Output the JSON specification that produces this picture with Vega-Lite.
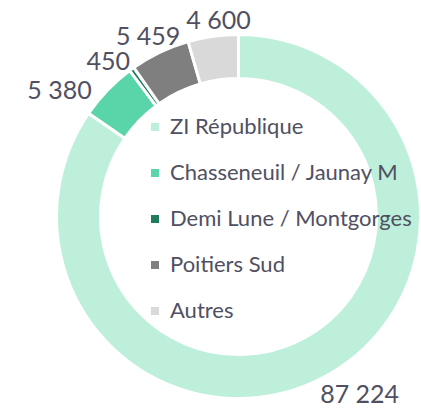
{
  "$schema": "https://vega.github.io/schema/vega-lite/v6.json",
  "width": 365,
  "height": 365,
  "autosize": {"type": "none"},
  "padding": {"left": 56, "top": 34, "right": 0, "bottom": 9},
  "background": "white",
  "config": {
    "view": {"stroke": null},
    "locale": {"number": {"decimal": ",", "thousands": " ", "grouping": [3], "currency": ["", " €"]}}
  },
  "data": {
    "values": [
      {"zone": "ZI République", "value": 87224, "rang": 1},
      {"zone": "Chasseneuil / Jaunay M", "value": 5380, "rang": 2},
      {"zone": "Demi Lune / Montgorges", "value": 450, "rang": 3},
      {"zone": "Poitiers Sud", "value": 5459, "rang": 4},
      {"zone": "Autres", "value": 4600, "rang": 5}
    ]
  },
  "encoding": {
    "theta": {"field": "value", "type": "quantitative", "stack": true},
    "order": {"field": "rang", "type": "quantitative"}
  },
  "layer": [
    {
      "mark": {"type": "arc", "outerRadius": 182, "innerRadius": 138, "stroke": "white", "strokeWidth": 3},
      "encoding": {
        "color": {
          "field": "zone",
          "type": "nominal",
          "sort": null,
          "scale": {
            "domain": ["ZI République", "Chasseneuil / Jaunay M", "Demi Lune / Montgorges", "Poitiers Sud", "Autres"],
            "range": ["#BDEFDB", "#5AD5A9", "#1E7B5B", "#7F7F7F", "#D9D9D9"]
          },
          "legend": {
            "orient": "none",
            "legendX": 88,
            "legendY": 82,
            "title": null,
            "symbolType": "square",
            "symbolSize": 64,
            "symbolStrokeWidth": 0,
            "symbolOpacity": 1,
            "labelFont": "Lato",
            "labelFontSize": 22,
            "labelColor": "#505062",
            "labelOffset": 4,
            "rowPadding": 24,
            "padding": 0,
            "labelLimit": 400
          }
        }
      }
    },
    {
      "mark": {"type": "text", "radius": 200, "dx": 28, "dy": 1, "font": "Lato", "fontSize": 25, "fill": "#505062", "align": "center", "baseline": "middle"},
      "encoding": {
        "detail": {"field": "zone", "type": "nominal"},
        "text": {"field": "value", "type": "quantitative", "format": ",d"},
        "opacity": {"condition": {"test": "datum.rang == 1", "value": 1}, "value": 0}
      }
    },
    {
      "mark": {"type": "text", "radius": 200, "dx": -35, "dy": 13, "font": "Lato", "fontSize": 25, "fill": "#505062", "align": "center", "baseline": "middle"},
      "encoding": {
        "detail": {"field": "zone", "type": "nominal"},
        "text": {"field": "value", "type": "quantitative", "format": ",d"},
        "opacity": {"condition": {"test": "datum.rang == 2", "value": 1}, "value": 0}
      }
    },
    {
      "mark": {"type": "text", "radius": 200, "dx": -13, "dy": 7, "font": "Lato", "fontSize": 25, "fill": "#505062", "align": "center", "baseline": "middle"},
      "encoding": {
        "detail": {"field": "zone", "type": "nominal"},
        "text": {"field": "value", "type": "quantitative", "format": ",d"},
        "opacity": {"condition": {"test": "datum.rang == 3", "value": 1}, "value": 0}
      }
    },
    {
      "mark": {"type": "text", "radius": 200, "dx": -4, "dy": 1, "font": "Lato", "fontSize": 25, "fill": "#505062", "align": "center", "baseline": "middle"},
      "encoding": {
        "detail": {"field": "zone", "type": "nominal"},
        "text": {"field": "value", "type": "quantitative", "format": ",d"},
        "opacity": {"condition": {"test": "datum.rang == 4", "value": 1}, "value": 0}
      }
    },
    {
      "mark": {"type": "text", "radius": 200, "dx": 8, "dy": 3, "font": "Lato", "fontSize": 25, "fill": "#505062", "align": "center", "baseline": "middle"},
      "encoding": {
        "detail": {"field": "zone", "type": "nominal"},
        "text": {"field": "value", "type": "quantitative", "format": ",d"},
        "opacity": {"condition": {"test": "datum.rang == 5", "value": 1}, "value": 0}
      }
    }
  ]
}
